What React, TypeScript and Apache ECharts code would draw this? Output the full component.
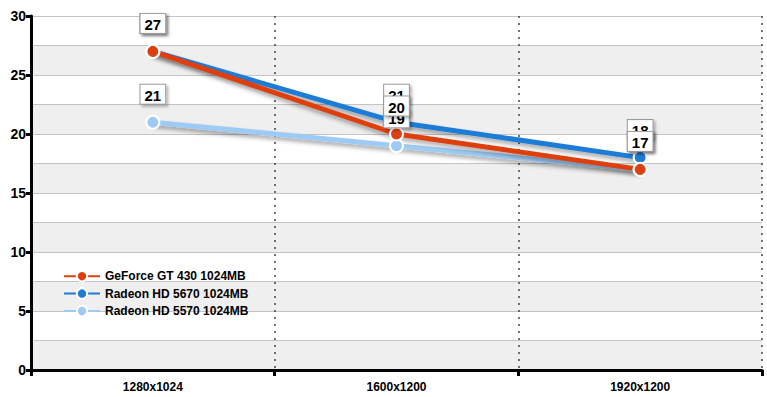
import React, { useEffect, useRef } from "react";
import * as echarts from "echarts";

const categories = ["1280x1024", "1600x1200", "1920x1200"];
const seriesNames = ["GeForce GT 430 1024MB", "Radeon HD 5670 1024MB", "Radeon HD 5570 1024MB"];
const geforce = [27, 20, 17];
const hd5670 = [27, 21, 18];
const hd5570 = [21, 19, 17];
const colors = ["#dd4010", "#1f7bd6", "#9dcbf3"];

export default function App() {
  const ref = useRef<HTMLDivElement>(null);
  useEffect(() => {
    const chart = echarts.init(ref.current!, null, { renderer: "svg" });
    const mk = (name: string, data: number[], color: string) => ({
      name,
      type: "line",
      data,
      z: 3,
      symbol: "circle",
      symbolSize: 13,
      itemStyle: { color, borderColor: "#fff", borderWidth: 2 },
      lineStyle: {
        color,
        width: 5,
        shadowColor: "rgba(0,0,0,0.35)",
        shadowBlur: 4,
        shadowOffsetY: 3,
      },
      label: {
        show: true,
        position: "top",
        distance: 11,
        color: "#000",
        fontWeight: "bold",
        fontSize: 15,
        fontFamily: "Arial, Liberation Sans, sans-serif",
        backgroundColor: "#fff",
        borderColor: "#999",
        borderWidth: 1,
        padding: [3, 4, 1, 4],
        shadowColor: "rgba(0,0,0,0.3)",
        shadowBlur: 3,
        shadowOffsetX: 2,
        shadowOffsetY: 2,
      },
    });
    chart.setOption({
      animation: false,
      grid: { left: 31, right: 5, top: 16, bottom: 27, containLabel: false },
      legend: {
        orient: "vertical",
        left: 58,
        top: 265,
        itemGap: 5,
        itemWidth: 36,
        itemHeight: 13,
        data: seriesNames,
        textStyle: {
          color: "#000",
          fontWeight: "bold",
          fontSize: 12,
          fontFamily: "Arial, Liberation Sans, sans-serif",
        },
      },
      xAxis: {
        type: "category",
        data: categories,
        boundaryGap: true,
        axisLine: { lineStyle: { color: "#000", width: 3 } },
        axisTick: { show: true, length: 6, lineStyle: { color: "#000", width: 3 } },
        axisLabel: {
          color: "#000",
          fontWeight: "bold",
          fontSize: 12,
          margin: 11,
          fontFamily: "Arial, Liberation Sans, sans-serif",
        },
        splitLine: { show: true, lineStyle: { color: "#444", width: 1.5, type: [2, 5] } },
      },
      yAxis: [
        {
          type: "value",
          min: 0,
          max: 30,
          interval: 5,
          position: "left",
          axisLine: { show: true, lineStyle: { color: "#000", width: 3 } },
          axisTick: { show: true, length: 5, lineStyle: { color: "#000", width: 3 } },
          axisLabel: {
            color: "#000",
            fontWeight: "bold",
            fontSize: 14,
            margin: 5,
            fontFamily: "Arial, Liberation Sans, sans-serif",
          },
          splitLine: { show: false },
          z: 5,
        },
        {
          type: "value",
          min: 0,
          max: 30,
          interval: 2.5,
          position: "left",
          axisLine: { show: false },
          axisTick: { show: false },
          axisLabel: { show: false },
          splitLine: { show: true, lineStyle: { color: "#c4c4c4", width: 1 } },
          splitArea: { show: true, areaStyle: { color: ["#efefef", "#ffffff"] } },
        },
      ],
      series: [
        mk(seriesNames[2], hd5570, colors[2]),
        mk(seriesNames[1], hd5670, colors[1]),
        mk(seriesNames[0], geforce, colors[0]),
      ],
    });
    return () => chart.dispose();
  }, []);
  return <div ref={ref} style={{ width: 767, height: 397, position: "absolute", left: 0, top: 0 }} />;
}
